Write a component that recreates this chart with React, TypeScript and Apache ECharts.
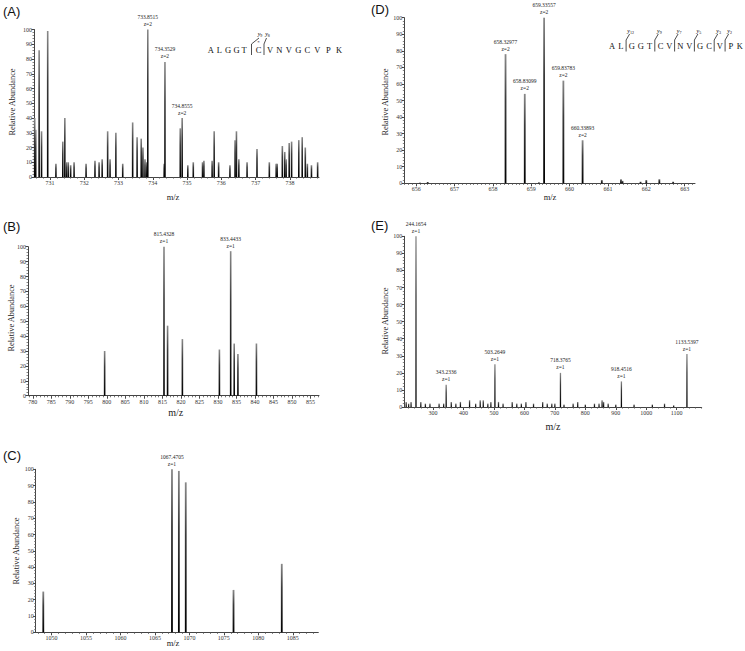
import React, { useEffect, useRef } from "react";
import * as echarts from "echarts";

// ---------- DATA ----------
// Panel A
const aMz = [730.55, 730.58, 730.68, 730.75, 730.93, 731.17, 731.37, 731.43, 731.48, 731.53, 731.6, 731.7, 732.05, 732.31, 732.43, 732.52, 732.68, 732.75, 732.92, 733.12, 733.41, 733.54, 733.66, 733.71, 733.77, 733.82, 733.8515, 734.33, 734.3529, 734.8, 734.8555, 735.02, 735.18, 735.45, 735.49, 735.73, 735.79, 735.92, 736.25, 736.4, 736.44, 736.51, 736.75, 737.04, 737.4, 737.6, 737.63, 737.78, 737.85, 737.89, 737.98, 738.05, 738.26, 738.36, 738.45, 738.51, 738.63, 738.81];
const aInt = [40, 32, 86, 31, 99, 9, 24, 40, 10, 10, 8, 10, 9, 11, 10, 12, 31, 12, 30, 9, 37, 27, 26, 20, 12, 10, 100, 9, 78, 33, 40, 8, 10, 10, 11, 11, 31, 10, 8, 25, 31, 12, 10, 19, 10, 9, 9, 21, 17, 12, 23, 24, 25, 27, 20, 9, 8, 10];
const aLabelMz = [733.8515, 734.3529, 734.8555];
const aLabelText = ["733.8515\nz=2", "734.3529\nz=2", "734.8555\nz=2"];
const aTicks = [731, 732, 733, 734, 735, 736, 737, 738];

// Panel B
const bMz = [799.4, 815.4328, 816.4, 820.4, 830.4, 833.4433, 834.4, 835.4, 840.4];
const bInt = [30, 100, 47, 38, 31, 97, 35, 28, 35];
const bLabelMz = [815.4328, 833.4433];
const bLabelText = ["815.4328\nz=1", "833.4433\nz=1"];
const bTicks = [780, 785, 790, 795, 800, 805, 810, 815, 820, 825, 830, 835, 840, 845, 850, 855];

// Panel C
const cMz = [1048.8, 1067.4705, 1068.47, 1069.47, 1076.4, 1083.4];
const cInt = [25, 100, 99, 92, 26, 42];
const cLabelMz = [1067.4705];
const cLabelText = ["1067.4705\nz=1"];
const cTicks = [1050, 1055, 1060, 1065, 1070, 1075, 1080, 1085];

// Panel D
const dMz = [656.1, 656.3, 658.32977, 658.83099, 659.2, 659.33557, 659.83783, 660.33893, 660.84, 661.34, 661.38, 661.85, 662.0, 662.34, 662.7];
const dInt = [0.5, 0.8, 78, 54, 0.6, 100, 62, 26, 2, 2.5, 1.5, 1, 2, 2.5, 1];
const dLabelMz = [658.32977, 658.83099, 659.33557, 659.83783, 660.33893];
const dLabelText = ["658.32977\nz=2", "658.83099\nz=2", "659.33557\nz=2", "659.83783\nz=2", "660.33893\nz=2"];
const dTicks = [656, 657, 658, 659, 660, 661, 662, 663];

// Panel E
const eMz = [212, 220, 228, 244.1654, 260, 275, 290, 320, 335, 343.2336, 360, 375, 390, 420, 440, 455, 465, 480, 490, 503.2649, 515, 530, 560, 575, 590, 605, 630, 660, 675, 690, 700, 718.3765, 730, 760, 775, 800, 830, 845, 855, 860, 875, 900, 918.4516, 960, 1020, 1060, 1090, 1133.5397];
const eInt = [3, 2, 3, 100, 3, 2, 2, 2, 2, 13, 3, 2, 3, 4, 2, 4, 4, 2, 3, 25, 3, 2, 3, 2, 2, 3, 2, 3, 2, 2, 2, 20, 1.5, 2, 3, 1.5, 2, 2, 4, 3, 2, 1.5, 15, 1.5, 1.5, 2, 1, 31];
const eLabelMz = [244.1654, 343.2336, 503.2649, 718.3765, 918.4516, 1133.5397];
const eLabelText = ["244.1654\nz=1", "343.2336\nz=1", "503.2649\nz=1", "718.3765\nz=1", "918.4516\nz=1", "1133.5397\nz=1"];
const eTicks = [300, 400, 500, 600, 700, 800, 900, 1000, 1100];

const yTicks = [0, 10, 20, 30, 40, 50, 60, 70, 80, 90, 100];

// Peptide sequence
const sequence = ["A", "L", "G", "G", "T", "C", "V", "N", "V", "G", "C", "V", "P", "K"];

const SERIF = "'Liberation Serif', 'Times New Roman', serif";
const SANS = "'Liberation Sans', Arial, sans-serif";
const LABEL_STYLE = { fontSize: 5.5, lineHeight: 7, fontFamily: SERIF, color: "#222" };

function buildData(mz: number[], ints: number[], labMz: number[], labText: string[]) {
  return mz.map((x, i) => {
    const li = labMz.indexOf(x);
    if (li >= 0) {
      return { value: [x, ints[i]], label: { show: true, position: "top", distance: 2, ...LABEL_STYLE, formatter: labText[li] } };
    }
    return [x, ints[i]];
  });
}

function minorTicks(min: number, max: number, step: number) {
  const out: number[] = [];
  const start = Math.ceil(min / step) * step;
  for (let v = start; v <= max + 1e-9; v += step) out.push(+v.toFixed(4));
  return out;
}

type Panel = {
  left: number; top: number; width: number; height: number;
  min: number; max: number; ticks: number[]; minorStep: number;
  mz: number[]; ints: number[]; labMz: number[]; labText: string[]; barWidth: number;
};

const panels: Panel[] = [
  { left: 34, top: 29.5, width: 285, height: 147.5, min: 730.53, max: 738.85, ticks: aTicks, minorStep: 0.2, mz: aMz, ints: aInt, labMz: aLabelMz, labText: aLabelText, barWidth: 1.6 },
  { left: 28, top: 246.7, width: 291, height: 149, min: 778.7, max: 857.3, ticks: bTicks, minorStep: 1, mz: bMz, ints: bInt, labMz: bLabelMz, labText: bLabelText, barWidth: 1.6 },
  { left: 35.7, top: 469.3, width: 282.6, height: 163, min: 1047.7, max: 1088.7, ticks: cTicks, minorStep: 1, mz: cMz, ints: cInt, labMz: cLabelMz, labText: cLabelText, barWidth: 1.8 },
  { left: 404.3, top: 17.7, width: 290.7, height: 165.6, min: 655.69, max: 663.27, ticks: dTicks, minorStep: 0.1, mz: dMz, ints: dInt, labMz: dLabelMz, labText: dLabelText, barWidth: 1.8 },
  { left: 404.3, top: 236.3, width: 297.4, height: 170.7, min: 205.8, max: 1182, ticks: eTicks, minorStep: 20, mz: eMz, ints: eInt, labMz: eLabelMz, labText: eLabelText, barWidth: 1.3 },
];

const plain = (v: number) => String(v);

function buildOption() {
  const grid: any[] = [];
  const xAxis: any[] = [];
  const yAxis: any[] = [];
  const series: any[] = [];
  panels.forEach((p, i) => {
    grid.push({ left: p.left, top: p.top, width: p.width, height: p.height, containLabel: false });
    xAxis.push({
      type: "value", gridIndex: i, min: p.min, max: p.max, position: "bottom",
      axisLine: { show: true, onZero: false, lineStyle: { color: "#444", width: 1 } },
      axisTick: { show: true, customValues: p.ticks, length: 3, lineStyle: { color: "#444" } },
      axisLabel: { show: true, customValues: p.ticks, formatter: plain, fontSize: 6, fontFamily: SERIF, color: "#333", margin: 3 },
      splitLine: { show: false },
    });
    xAxis.push({
      type: "value", gridIndex: i, min: p.min, max: p.max, position: "bottom", offset: 0,
      axisLine: { show: false },
      axisTick: { show: true, customValues: minorTicks(p.min, p.max, p.minorStep), length: 1.6, lineStyle: { color: "#555", width: 0.8 } },
      axisLabel: { show: false },
      splitLine: { show: false },
    });
    yAxis.push({
      type: "value", gridIndex: i, min: 0, max: 100, interval: 10,
      axisLine: { show: true, lineStyle: { color: "#444", width: 1 } },
      axisTick: { show: true, length: 2.5, lineStyle: { color: "#444" } },
      minorTick: { show: true, splitNumber: 5, length: 1.5, lineStyle: { color: "#666", width: 0.8 } },
      axisLabel: { fontSize: 6, fontFamily: SERIF, color: "#333", margin: 2, customValues: yTicks, formatter: plain },
      splitLine: { show: false },
    });
    series.push({
      type: "bar",
      xAxisIndex: i * 2,
      yAxisIndex: i,
      barWidth: p.barWidth,
      itemStyle: {
        color: new echarts.graphic.LinearGradient(0, 0, 0, 1, [
          { offset: 0, color: "#8a8a8a" },
          { offset: 0.35, color: "#3a3a3a" },
          { offset: 1, color: "#000" },
        ]),
      },
      label: { show: false, position: "top", distance: 2, ...LABEL_STYLE },
      data: buildData(p.mz, p.ints, p.labMz, p.labText),
    });
  });

  const graphic: any[] = [];
  const panelLetters = [
    { t: "(A)", x: 3, y: 11 },
    { t: "(B)", x: 3, y: 226 },
    { t: "(C)", x: 3, y: 455 },
    { t: "(D)", x: 371, y: 9 },
    { t: "(E)", x: 371, y: 225 },
  ];
  panelLetters.forEach((l) =>
    graphic.push({ type: "text", x: l.x, y: l.y, style: { text: l.t, font: `13px ${SANS}`, fill: "#111", textVerticalAlign: "middle" } })
  );
  const yTitles = [
    { x: 12.7, y: 102 }, { x: 11, y: 318 }, { x: 16, y: 551 }, { x: 385.7, y: 102 }, { x: 385.3, y: 321 },
  ];
  yTitles.forEach((t) =>
    graphic.push({
      type: "text", x: t.x, y: t.y, rotation: Math.PI / 2,
      style: { text: "Relative Abundance", font: `8.3px ${SERIF}`, fill: "#222", textAlign: "center", textVerticalAlign: "middle" },
    })
  );
  const xTitles = [
    { x: 173, y: 197, s: 8.5 }, { x: 175.7, y: 412.7, s: 10 }, { x: 173, y: 643, s: 8.5 }, { x: 550, y: 197, s: 8.5 }, { x: 553, y: 426.7, s: 10 },
  ];
  xTitles.forEach((t) =>
    graphic.push({ type: "text", x: t.x, y: t.y, style: { text: "m/z", font: `${t.s}px ${SERIF}`, fill: "#222", textAlign: "center", textVerticalAlign: "middle" } })
  );

  const richSub = {
    y: { fontFamily: SERIF, fontStyle: "italic", fontSize: 6, color: "#222" },
    s: { fontFamily: SERIF, fontSize: 4, color: "#222", padding: [3, 0, 0, 0] },
  };

  // Sequence A
  const aLetterX = [210.7, 219.3, 228, 236.5, 244, 258.5, 270, 279.3, 288.7, 298.3, 307.3, 317.3, 328.3, 339];
  sequence.forEach((s, i) =>
    graphic.push({ type: "text", x: aLetterX[i], y: 50, style: { text: s, font: `8.5px ${SERIF}`, fill: "#111", textAlign: "center", textVerticalAlign: "middle" } })
  );
  graphic.push({ type: "text", x: 258.5, y: 42.2, style: { text: "*", font: `5px ${SERIF}`, fill: "#111", textAlign: "center", textVerticalAlign: "middle" } });
  const aBrackets = [{ bx: 251.5, lx: 260, lab: "9" }, { bx: 264, lx: 267.5, lab: "8" }];
  aBrackets.forEach((b) => {
    graphic.push({ type: "polyline", shape: { points: [[b.bx, 55], [b.bx, 44], [b.lx - 1, 38]] }, style: { stroke: "#222", lineWidth: 0.8, fill: null } });
    graphic.push({
      type: "text", x: b.lx, y: 34, style: {
        text: `{y|y}{s|${b.lab}}`, textAlign: "center", textVerticalAlign: "middle", rich: richSub,
      },
    });
  });

  // Sequence D
  const dBreakAfter = [1, 4, 6, 8, 10, 11];
  const dLabels = ["12", "9", "7", "5", "3", "2"];
  const dLetterX: number[] = [];
  let cx = 612;
  sequence.forEach((s, i) => {
    dLetterX.push(cx);
    cx += 8.9 + (dBreakAfter.indexOf(i) >= 0 ? 2 : 0);
  });
  sequence.forEach((s, i) =>
    graphic.push({ type: "text", x: dLetterX[i], y: 45.5, style: { text: s, font: `8.5px ${SERIF}`, fill: "#111", textAlign: "center", textVerticalAlign: "middle" } })
  );
  dBreakAfter.forEach((bi, k) => {
    const bx = dLetterX[bi] + 5.2;
    graphic.push({ type: "polyline", shape: { points: [[bx, 51.5], [bx, 40], [bx + 3.5, 34]] }, style: { stroke: "#222", lineWidth: 0.8, fill: null } });
    graphic.push({
      type: "text", x: bx + 4.5, y: 30.5, style: {
        text: `{y|y}{s|${dLabels[k]}}`, textAlign: "center", textVerticalAlign: "middle", rich: richSub,
      },
    });
  });

  return {
    animation: false,
    backgroundColor: "#ffffff",
    grid, xAxis, yAxis, series, graphic,
  };
}

export default function App() {
  const ref = useRef<HTMLDivElement>(null);
  useEffect(() => {
    if (!ref.current) return;
    const chart = echarts.init(ref.current, null, { renderer: "svg" });
    chart.setOption(buildOption() as any);
    return () => chart.dispose();
  }, []);
  return <div ref={ref} style={{ position: "absolute", left: 0, top: 0, width: 745, height: 651 }} />;
}
